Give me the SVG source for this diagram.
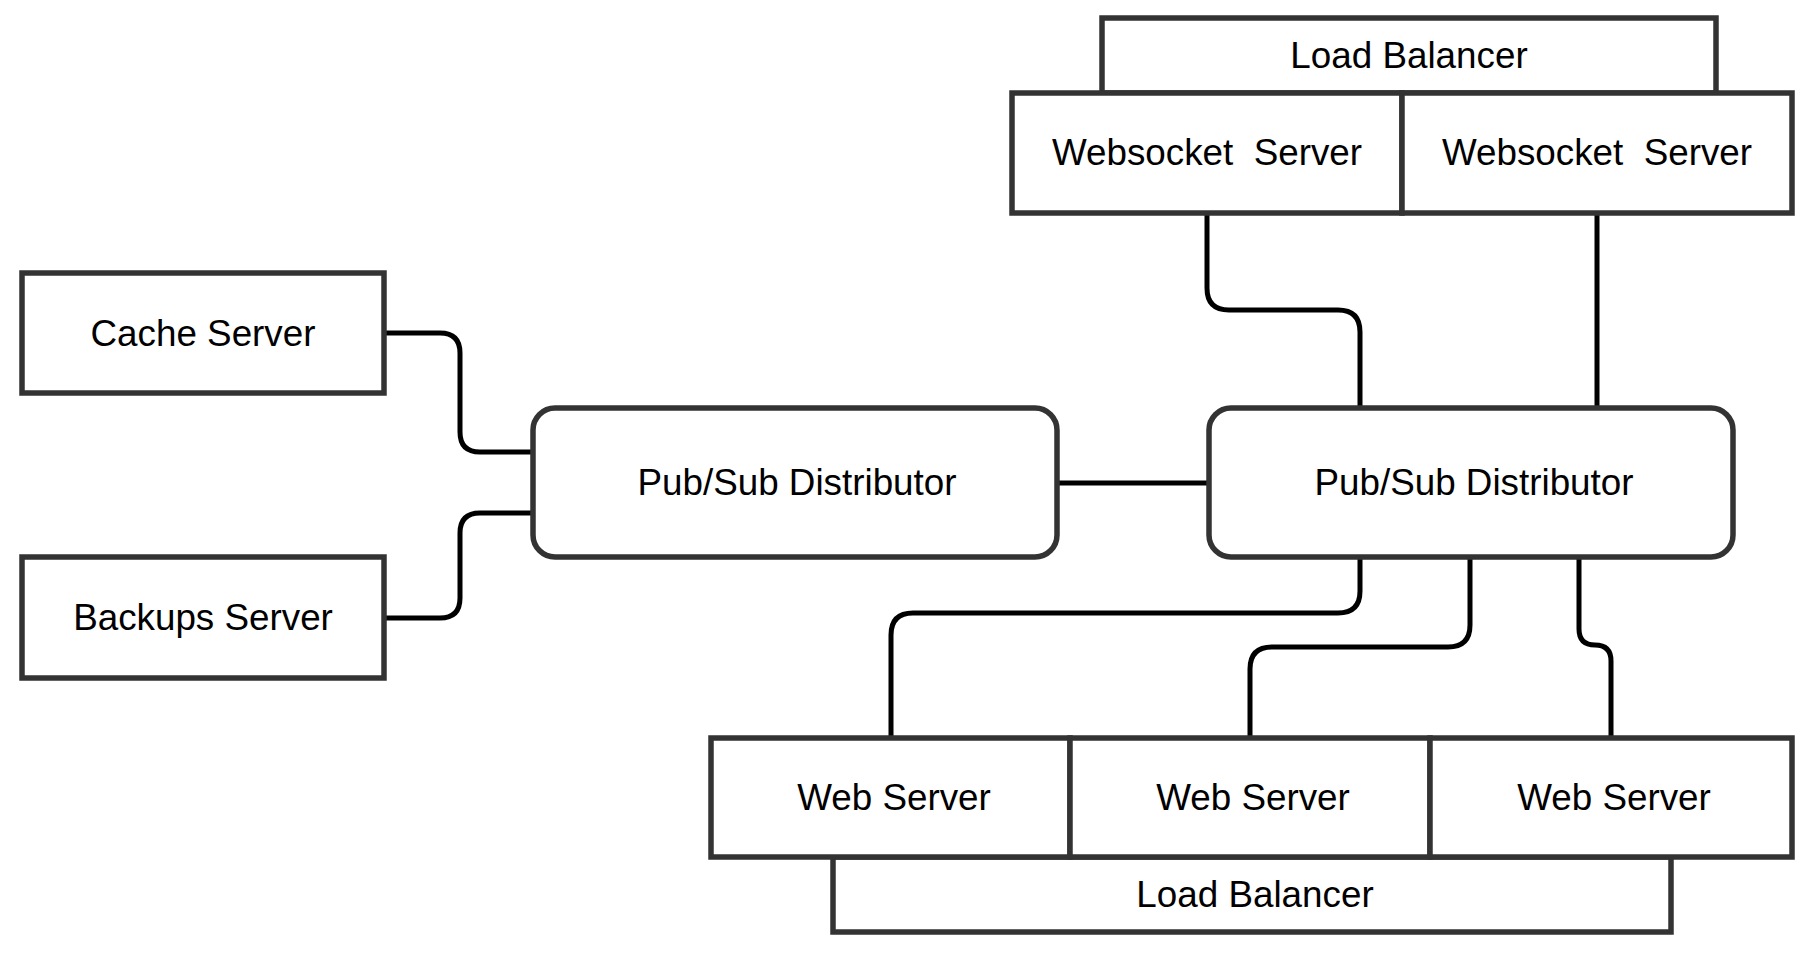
<svg xmlns="http://www.w3.org/2000/svg" width="1812" height="957" viewBox="0 0 1812 957">
<style>
.box{fill:#fff;stroke:#333;stroke-width:5.5}
.lbl{font-family:"Liberation Sans",Arial,sans-serif;font-size:36.8px;fill:#000;text-anchor:middle;white-space:pre}
.con{fill:none;stroke:#000;stroke-width:5}
</style>
<rect width="1812" height="957" fill="#fff"/>
<g id="connectors">
<path class="con" d="M384 333 H440 Q460 333 460 353 V432 Q460 452 480 452 H533"/>
<path class="con" d="M384 618 H440 Q460 618 460 598 V533 Q460 513 480 513 H533"/>
<path class="con" d="M1057 483 H1209"/>
<path class="con" d="M1207 213 V288 Q1207 310 1229 310 H1338 Q1360 310 1360 332 V408"/>
<path class="con" d="M1597 213 V408"/>
<path class="con" d="M1360 557 V591 Q1360 613 1338 613 H913 Q891 613 891 635 V738"/>
<path class="con" d="M1470 557 V625 Q1470 647 1448 647 H1272 Q1250 647 1250 669 V738"/>
<path class="con" d="M1579 557 V629 Q1579 645 1595 645 Q1611 645 1611 661 V738"/>
</g>
<g id="lb-top">
<rect class="box" x="1102" y="18" width="614" height="75"/>
<text class="lbl" x="1409" y="68">Load Balancer</text>
</g>
<g id="ws1">
<rect class="box" x="1012" y="93" width="390" height="120"/>
<text class="lbl" x="1207" y="165" xml:space="preserve">Websocket  Server</text>
</g>
<g id="ws2">
<rect class="box" x="1402" y="93" width="390" height="120"/>
<text class="lbl" x="1597" y="165" xml:space="preserve">Websocket  Server</text>
</g>
<g id="cache">
<rect class="box" x="22" y="273" width="362" height="120"/>
<text class="lbl" x="203" y="346">Cache Server</text>
</g>
<g id="backups">
<rect class="box" x="22" y="557" width="362" height="121"/>
<text class="lbl" x="203" y="630">Backups Server</text>
</g>
<g id="pubsub-left">
<rect class="box" x="533" y="408" width="524" height="149" rx="22" ry="22"/>
<text class="lbl" x="797" y="495">Pub/Sub Distributor</text>
</g>
<g id="pubsub-right">
<rect class="box" x="1209" y="408" width="524" height="149" rx="22" ry="22"/>
<text class="lbl" x="1474" y="495">Pub/Sub Distributor</text>
</g>
<g id="lb-bottom">
<rect class="box" x="833" y="857" width="838" height="75"/>
<text class="lbl" x="1255" y="907">Load Balancer</text>
</g>
<g id="web1">
<rect class="box" x="711" y="738" width="359" height="119"/>
<text class="lbl" x="894" y="810">Web Server</text>
</g>
<g id="web2">
<rect class="box" x="1070" y="738" width="360" height="119"/>
<text class="lbl" x="1253" y="810">Web Server</text>
</g>
<g id="web3">
<rect class="box" x="1430" y="738" width="362" height="119"/>
<text class="lbl" x="1614" y="810">Web Server</text>
</g>
</svg>
